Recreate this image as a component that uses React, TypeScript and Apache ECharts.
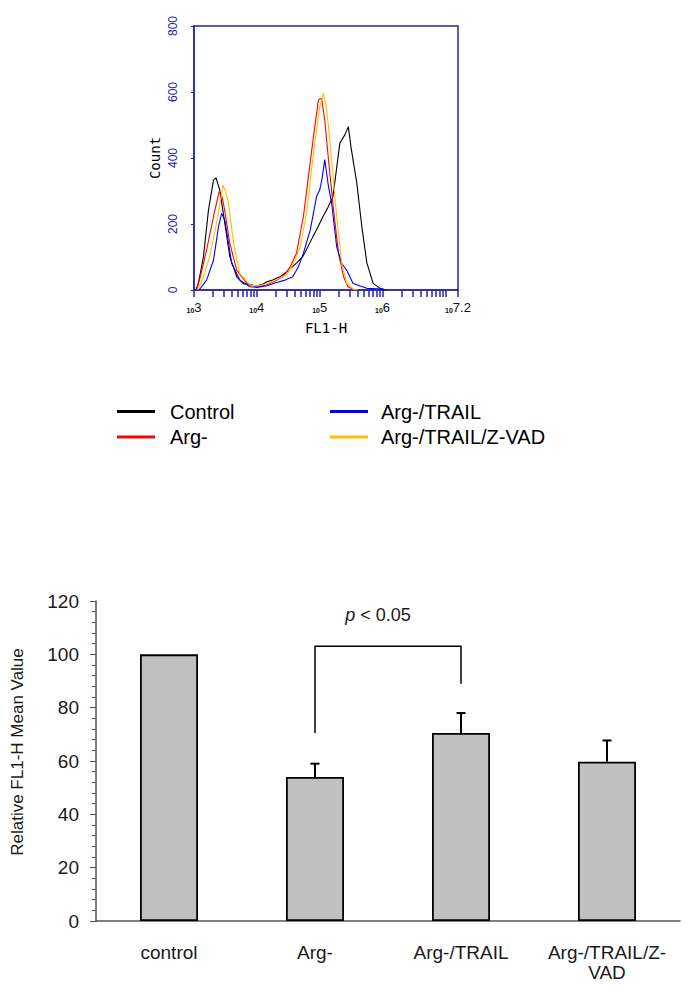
import React, { useEffect, useRef } from "react";
import * as echarts from "echarts";

// ---------- Histogram data (x = log10 FL1-H, y = count) ----------
const controlHist: number[][] = [
  [3.03, 0], [3.06, 15], [3.1, 50], [3.15, 101], [3.23, 242], [3.31, 333], [3.35, 340], [3.41, 303],
  [3.49, 202], [3.57, 101], [3.68, 40], [3.78, 20], [3.89, 15], [4.0, 12], [4.1, 18], [4.16, 25],
  [4.25, 30], [4.37, 40], [4.47, 55], [4.57, 71], [4.65, 85], [4.73, 101], [4.81, 130], [4.89, 161],
  [4.97, 190], [5.05, 222], [5.13, 250], [5.21, 283], [5.27, 370], [5.32, 445], [5.4, 470], [5.455, 495],
  [5.5, 430], [5.59, 324], [5.67, 192], [5.75, 82], [5.85, 20], [5.96, 5], [6.05, 0],
];
const argHist: number[][] = [
  [3.04, 0], [3.1, 40], [3.2, 121], [3.31, 222], [3.4, 298], [3.45, 280], [3.49, 240], [3.57, 141],
  [3.68, 60], [3.84, 20], [4.0, 10], [4.15, 15], [4.3, 28], [4.42, 41], [4.53, 70], [4.63, 111],
  [4.74, 222], [4.82, 343], [4.9, 464], [4.98, 576], [5.03, 581], [5.08, 515], [5.14, 394], [5.22, 242],
  [5.3, 111], [5.38, 40], [5.45, 10], [5.55, 0],
];
const trailHist: number[][] = [
  [3.08, 0], [3.2, 30], [3.31, 90], [3.39, 192], [3.44, 232], [3.49, 212], [3.55, 141], [3.6, 80],
  [3.73, 30], [3.89, 10], [4.0, 8], [4.15, 12], [4.3, 22], [4.45, 30], [4.57, 40], [4.66, 70],
  [4.74, 111], [4.85, 182], [4.95, 283], [5.0, 303], [5.04, 340], [5.08, 395], [5.14, 313], [5.19, 263],
  [5.27, 131], [5.35, 81], [5.43, 60], [5.53, 20], [5.75, 5], [6.0, 3], [6.05, 0],
];
const zvadHist: number[][] = [
  [3.06, 0], [3.15, 40], [3.25, 101], [3.38, 222], [3.46, 318], [3.5, 300], [3.55, 263], [3.63, 141],
  [3.73, 50], [3.89, 15], [4.0, 12], [4.15, 18], [4.3, 30], [4.47, 45], [4.58, 80], [4.69, 131],
  [4.79, 232], [4.9, 414], [5.0, 555], [5.06, 596], [5.1, 560], [5.14, 495], [5.19, 394], [5.27, 222],
  [5.35, 81], [5.43, 20], [5.53, 3], [5.6, 0],
];
const histNames = ["Control", "Arg-", "Arg-/TRAIL", "Arg-/TRAIL/Z-VAD"];
const histColors = ["#000000", "#ff0000", "#0000ff", "#ffc000"];

// x-axis labels (exponents) and tick values (raw FL1-H units)
const xLabelExps = [3, 4, 5, 6, 7.2];
const xTickRaw = [
  1e3, 2e3, 3e3, 4e3, 5e3, 6e3, 7e3, 8e3, 9e3,
  1e4, 2e4, 3e4, 4e4, 5e4, 6e4, 7e4, 8e4, 9e4,
  1e5, 2e5, 3e5, 4e5, 5e5, 6e5, 7e5, 8e5, 9e5,
  1e6, 2e6, 3e6, 4e6, 5e6, 6e6, 7e6, 8e6, 9e6,
  1e7, 10 ** 7.2,
];

// ---------- Bar chart data ----------
const barCategories = ["control", "Arg-", "Arg-/TRAIL", "Arg-/TRAIL/Z-VAD"];
const barValues = [100, 54, 70.5, 59.7];
const barErrors = [0, 5, 7.5, 8];
// significance bracket: from category index, to category index, left leg bottom, top, right leg bottom
const bracket = [1, 2, 70.5, 103, 89];
const bracketLabel = "p < 0.05";

const BLUE = "#2424b4";
const AXIS_GRAY = "#555555";

export default function App() {
  const ref = useRef<HTMLDivElement>(null);
  useEffect(() => {
    if (!ref.current) return;
    const chart = echarts.init(ref.current, null, { renderer: "svg" });
    const histData = [controlHist, argHist, trailHist, zvadHist];

    const option: any = {
      animation: false,
      backgroundColor: "#ffffff",
      grid: [
        { left: 194, top: 26, width: 264, height: 264, show: true, borderColor: BLUE, borderWidth: 1.5, backgroundColor: "transparent", outerBoundsMode: "none", containLabel: false },
        { left: 96, top: 601, width: 584, height: 320, outerBoundsMode: "none", containLabel: false },
      ],
      legend: [
        {
          data: ["Control", "Arg-"], orient: "vertical", left: 117, top: 401.5, padding: 0,
          icon: "rect", itemWidth: 38, itemHeight: 3, itemGap: 5.6, selectedMode: false,
          textStyle: { fontSize: 20, lineHeight: 20, fontFamily: "Liberation Sans, Arial", color: "#000", padding: [0, 0, 0, 10] },
        },
        {
          data: ["Arg-/TRAIL", "Arg-/TRAIL/Z-VAD"], orient: "vertical", left: 330, top: 401.5, padding: 0,
          icon: "rect", itemWidth: 38, itemHeight: 3, itemGap: 5.6, selectedMode: false,
          textStyle: { fontSize: 20, lineHeight: 20, fontFamily: "Liberation Sans, Arial", color: "#000", padding: [0, 0, 0, 8] },
        },
      ],
      xAxis: [
        {
          gridIndex: 0, type: "value", min: 3, max: 7.2,
          name: "FL1-H", nameLocation: "middle", nameGap: 31,
          nameTextStyle: { fontFamily: "DejaVu Sans Mono", fontSize: 14, color: "#000" },
          axisLine: { lineStyle: { color: BLUE, width: 1.5 } },
          axisTick: { show: true, customValues: xTickRaw.map((v) => Math.log10(v)), length: 7, lineStyle: { color: BLUE, width: 1.5 } },
          splitLine: { show: false },
          axisLabel: {
            customValues: xLabelExps, margin: 10,
            formatter: (v: number) => `{b|10}{e|${Math.round(v * 10) / 10}}`,
            rich: {
              b: { fontSize: 7, fontWeight: "bold", fontFamily: "Liberation Sans", color: "#111", verticalAlign: "bottom", lineHeight: 14 },
              e: { fontSize: 13, fontFamily: "Liberation Sans", color: "#111", verticalAlign: "bottom", lineHeight: 14 },
            },
          },
        },
        {
          gridIndex: 1, type: "category", data: barCategories,
          axisLine: { lineStyle: { color: AXIS_GRAY, width: 1.5 } },
          axisTick: { show: false },
          axisLabel: {
            interval: 0, hideOverlap: false,
            margin: 21, fontSize: 19, lineHeight: 20, fontFamily: "Liberation Sans, Arial", color: "#1a1a1a",
            formatter: (v: string) => v.replace("Z-VAD", "Z-\nVAD"),
          },
        },
      ],
      yAxis: [
        {
          gridIndex: 0, type: "value", min: 0, max: 800, interval: 200,
          name: "Count", nameLocation: "middle", nameGap: 32, nameRotate: 90,
          nameTextStyle: { fontFamily: "DejaVu Sans Mono", fontSize: 14, color: "#000" },
          axisLine: { show: true, lineStyle: { color: BLUE, width: 1.5 } },
          axisTick: { show: true, length: 3, lineStyle: { color: BLUE } },
          splitLine: { show: false },
          axisLabel: { rotate: 90, margin: 15, fontSize: 12, fontFamily: "Liberation Sans", color: BLUE },
        },
        {
          gridIndex: 1, type: "value", min: 0, max: 120, interval: 20,
          name: "Relative FL1-H Mean Value", nameLocation: "middle", nameGap: 70, nameRotate: 90,
          nameTextStyle: { fontFamily: "Liberation Sans, Arial", fontSize: 17, color: "#1a1a1a", padding: [0, 0, 0, 18] },
          axisLine: { show: true, lineStyle: { color: AXIS_GRAY, width: 1.5 } },
          axisTick: { show: true, length: 6, lineStyle: { color: AXIS_GRAY, width: 1 } },
          minorTick: { show: true, splitNumber: 5, length: 4, lineStyle: { color: AXIS_GRAY, width: 1 } },
          splitLine: { show: false },
          axisLabel: { margin: 17, fontSize: 19, fontFamily: "Liberation Sans, Arial", color: "#1a1a1a" },
        },
      ],
      series: [
        ...histNames.map((name, k) => ({
          name, type: "line", xAxisIndex: 0, yAxisIndex: 0, data: histData[k],
          symbol: "none", smooth: false, color: histColors[k],
          lineStyle: { color: histColors[k], width: 1.1 }, z: 3,
        })),
        {
          type: "bar", xAxisIndex: 1, yAxisIndex: 1, data: barValues, barWidth: 58,
          itemStyle: { color: "#c0c0c0", borderColor: "#000", borderWidth: 1.8 },
        },
        {
          type: "custom", xAxisIndex: 1, yAxisIndex: 1, z: 5,
          data: barValues.map((v, i) => [i, v, barErrors[i]]),
          encode: { x: 0, y: 1 },
          renderItem: (_p: any, api: any) => {
            const i = api.value(0), v = api.value(1), e = api.value(2);
            if (!e) return null;
            const base = api.coord([i, v]);
            const top = api.coord([i, v + e]);
            return {
              type: "group",
              children: [
                { type: "line", shape: { x1: base[0], y1: base[1], x2: base[0], y2: top[1] }, style: { stroke: "#000", lineWidth: 2 } },
                { type: "line", shape: { x1: base[0] - 4.5, y1: top[1], x2: base[0] + 4.5, y2: top[1] }, style: { stroke: "#000", lineWidth: 2 } },
              ],
            };
          },
        },
        {
          type: "custom", xAxisIndex: 1, yAxisIndex: 1, z: 5,
          data: [bracket],
          encode: { x: [0, 1], y: [2, 3, 4] },
          renderItem: (_p: any, api: any) => {
            const a = api.value(0), b = api.value(1);
            const pl = api.coord([a, api.value(2)]);
            const pt = api.coord([a, api.value(3)]);
            const pr = api.coord([b, api.value(4)]);
            const tt = api.coord([a, 114.6]);
            return {
              type: "group",
              children: [
                {
                  type: "polyline",
                  shape: { points: [[pl[0], pl[1]], [pl[0], pt[1]], [pr[0], pt[1]], [pr[0], pr[1]]] },
                  style: { stroke: "#000", lineWidth: 1.5, fill: null },
                },
                {
                  type: "text",
                  style: {
                    text: "{i|p}" + bracketLabel.slice(1),
                    x: (pl[0] + pr[0]) / 2 - 10, y: tt[1],
                    align: "center", verticalAlign: "middle",
                    fontSize: 18, fontFamily: "Liberation Sans, Arial", fill: "#1a1a1a",
                    rich: { i: { fontStyle: "italic", fontSize: 18, fontFamily: "Liberation Sans, Arial", fill: "#1a1a1a" } },
                  },
                },
              ],
            };
          },
        },
      ],
    };
    chart.setOption(option);
    return () => chart.dispose();
  }, []);
  return <div ref={ref} style={{ position: "absolute", left: 0, top: 0, width: 695, height: 993 }} />;
}
